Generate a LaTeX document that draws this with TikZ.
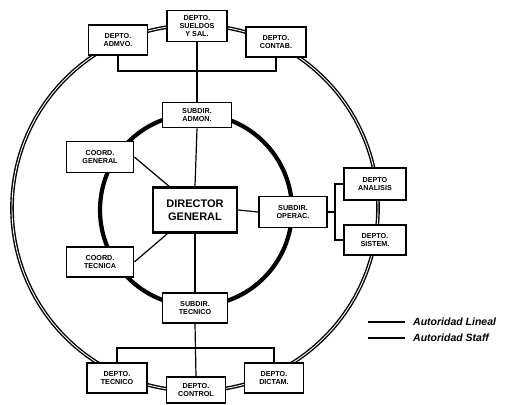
\documentclass[tikz,border=0pt]{standalone}
\usepackage{fontspec}
\setmainfont{Liberation Sans}
\usetikzlibrary{calc}
\begin{document}
\begin{tikzpicture}[x=1pt,y=-1pt,
  box/.style={draw=black,fill=white,line width=1.7pt,align=center,inner sep=1pt,
    font=\fontsize{7.2}{7.6}\selectfont\bfseries,minimum width=#1},
  box/.default=59pt,
  bigbox/.style={draw=black,fill=white,line width=2.4pt,align=center,inner sep=1pt,
    font=\fontsize{11}{12.5}\selectfont\bfseries,minimum width=84pt,minimum height=45pt},
  lineal/.style={line width=1.2pt},
  staff/.style={line width=1.4pt,double=white,double distance=0.9pt},
  inner ring/.style={line width=4.2pt},
  legend/.style={font=\fontsize{10.5}{12}\selectfont\bfseries\itshape,anchor=west,inner sep=0pt}
]
\useasboundingbox (0,0) rectangle (524,404);
% rings
\draw[staff] (195,208) circle[radius=183pt];
\draw[inner ring] (196,210) circle[radius=96pt];
% coordinates
\coordinate (tb) at (197,71);
\coordinate (bb) at (195,348);
\coordinate (rb) at (335,212);
% nodes
\node[box,minimum height=30pt] (admvo) at (118,40) {DEPTO.\\ADMVO.};
\node[box=60pt,minimum height=31pt] (sueldos) at (197,26) {DEPTO.\\SUELDOS\\Y SAL.};
\node[box=60pt,minimum height=30pt] (contab) at (276,42) {DEPTO.\\CONTAB.};
\node[box=69pt,minimum height=25pt] (admon) at (197,115) {SUBDIR.\\ADMON.};
\node[box=67pt,minimum height=31pt] (cgen) at (100,157) {COORD.\\GENERAL};
\node[box=67pt,minimum height=30pt] (ctec) at (100,262) {COORD.\\TECNICA};
\node[bigbox] (dir) at (195,210) {DIRECTOR\\GENERAL};
\node[box=68pt,minimum height=31pt] (soper) at (293,212) {SUBDIR.\\OPERAC.};
\node[box=62pt,minimum height=32pt] (analisis) at (375,184) {DEPTO\\ANALISIS};
\node[box=62pt,minimum height=30pt] (sistem) at (375,240) {DEPTO.\\SISTEM.};
\node[box=65pt,minimum height=30pt] (stec) at (195,308) {SUBDIR.\\TECNICO};
\node[box=60pt,minimum height=30pt] (dtec) at (117,378) {DEPTO.\\TECNICO};
\node[box=59pt,minimum height=26pt] (control) at (196,390) {DEPTO.\\CONTROL};
\node[box=59pt,minimum height=30pt] (dictam) at (274,378) {DEPTO.\\DICTAM.};
% lineal connectors
\draw[lineal] (admvo.south) |- (tb) -| (contab.south);
\draw[lineal] (sueldos.south) -- (admon.north);
\draw[lineal] (admon.south) -- (dir.north);
\draw[lineal] (dir.south) -- (stec.north);
\draw[lineal] (stec.south) -- (control.north);
\draw[lineal] (dtec.north) |- (bb) -| (dictam.north);
\draw[lineal] (dir.east) -- (soper.west);
\draw[lineal] (soper.east) -- (rb);
\draw[lineal] (analisis.west) -| (rb);
\draw[lineal] (sistem.west) -| (rb);
\draw[lineal] (cgen.east) -- ($(dir.north west)!0.2!(dir.north east)$);
\draw[lineal] (ctec.east) -- ($(dir.south west)!0.18!(dir.south east)$);
% legend
\coordinate (l1a) at (368,322); \coordinate (l1b) at (405,322);
\coordinate (l2a) at (368,338); \coordinate (l2b) at (405,338);
\draw[line width=1.2pt] (l1a) -- (l1b);
\draw[line width=1.7pt] (l2a) -- (l2b);
\node[legend] (leg1) at (413,322) {Autoridad Lineal};
\node[legend] (leg2) at (413,338) {Autoridad Staff};
\end{tikzpicture}
\end{document}
